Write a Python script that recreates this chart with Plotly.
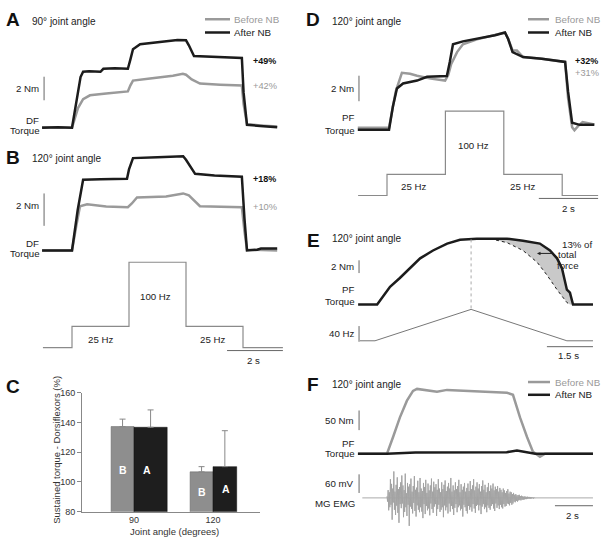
import plotly.graph_objects as go

W, H = 603, 551
FONT = "Liberation Sans, Arial, sans-serif"
BLK = "#1c1c1c"
GRY = "#9a9a9a"
STIM = "#8a8a8a"

# ---------------- DATA ----------------
# Panel A: 90 deg, DF torque (Nm) vs time (s)
a_after_t = [-1.05, -0.5, 0.0, 0.1, 0.21, 0.3, 0.39, 0.6, 1.0, 1.1, 1.5, 1.96, 2.05, 2.14, 2.39, 2.8, 3.33, 3.7, 4.0, 4.1, 4.28, 5.0, 5.96, 6.02, 6.14, 6.6, 7.2]
a_after_v = [0.0, 0.05, 0.0, 1.5, 3.3, 4.3, 4.75, 4.8, 4.75, 5.0, 5.05, 5.0, 5.8, 6.67, 7.08, 7.2, 7.33, 7.45, 7.42, 7.0, 6.08, 6.0, 5.92, 3.0, 0.25, 0.15, 0.05]
a_before_t = [-1.05, -0.5, 0.0, 0.1, 0.21, 0.39, 0.63, 1.2, 1.96, 2.05, 2.14, 2.74, 3.2, 3.54, 3.89, 4.0, 4.2, 4.49, 5.2, 5.96, 6.02, 6.14, 6.6, 7.2]
a_before_v = [0.05, 0.0, 0.0, 0.8, 1.67, 2.42, 2.75, 2.9, 3.08, 3.6, 4.0, 4.17, 4.3, 4.42, 4.58, 4.5, 4.1, 3.75, 3.65, 3.58, 2.0, 0.3, 0.2, 0.1]

# Panel B: 120 deg, DF torque
b_after_t = [-1.05, 0, 0.2, 0.39, 1.0, 1.93, 2.0, 2.14, 3.0, 3.9, 4.0, 4.32, 5.0, 5.96, 6.05, 6.14, 6.5, 6.63, 7.2]
b_after_v = [0, 0, 2.5, 4.36, 4.4, 4.42, 5.0, 5.70, 5.75, 5.82, 5.6, 4.73, 4.62, 4.55, 2.0, 0, 0.05, 0.12, 0.12]
b_before_t = [-1.05, 0, 0.15, 0.28, 0.53, 1.2, 1.96, 2.1, 2.28, 3.3, 3.9, 4.1, 4.49, 5.2, 5.96, 6.05, 6.14, 7.2]
b_before_v = [0, 0, 1.5, 2.73, 2.85, 2.72, 2.67, 2.9, 3.27, 3.33, 3.52, 3.4, 2.73, 2.7, 2.67, 1.2, 0.05, 0]

# Stimulation pattern (Hz)
b_stim_t = [-1.02, 0, 0, 2, 2, 4, 4, 6, 6, 7.4]
b_stim_hz = [0, 0, 25, 25, 100, 100, 25, 25, 0, 0]

# Panel C: sustained torque (%)
c_angles = ["90", "120"]
c_before = [137.3, 106.8]
c_after = [136.8, 110.3]
c_before_err = [5.0, 3.5]
c_after_err = [11.7, 24.2]

# Panel D: 120 deg, PF torque
d_after_t = [-1.0, 0.07, 0.2, 0.34, 0.55, 1.03, 1.37, 1.7, 2.05, 2.15, 2.26, 2.6, 3.3, 3.7, 4.04, 4.15, 4.3, 4.66, 5.3, 5.92, 6.1, 6.2, 6.34, 6.6, 7.1]
d_after_v = [0, 0, 1.8, 3.23, 3.62, 3.85, 4.15, 4.15, 4.2, 5.3, 6.69, 6.92, 7.23, 7.4, 7.62, 7.1, 6.08, 5.69, 5.55, 5.38, 5.31, 3.0, 0.54, 0.38, 0.38]
d_before_t = [-1.0, 0.07, 0.3, 0.51, 0.79, 1.03, 1.5, 1.99, 2.1, 2.2, 2.4, 2.6, 3.08, 3.6, 4.04, 4.15, 4.3, 4.45, 4.66, 5.3, 5.92, 6.1, 6.2, 6.34, 6.42, 6.55, 6.7, 6.9, 7.1]
d_before_v = [0.15, 0.15, 3.0, 4.46, 4.38, 4.23, 4.0, 3.85, 4.3, 5.15, 6.08, 6.69, 7.08, 7.35, 7.62, 7.1, 6.2, 6.2, 5.69, 5.55, 5.38, 5.31, 2.5, 0.2, -0.05, 0.3, 0.6, 0.5, 0.4]
d_stim_t = [-0.99, 0, 0, 2, 2, 4, 4, 6, 6, 7.23]
d_stim_hz = [0, 0, 25, 25, 100, 100, 25, 25, 0, 0]

# Panel E: ramp stimulation, PF torque
e_torque_t = [-0.55, 0.07, 0.26, 0.49, 0.81, 1.14, 1.47, 1.89, 2.35, 2.77, 3.32, 3.75, 4.30, 4.82, 5.37, 5.70, 5.93, 6.09, 6.19, 6.25, 6.35, 6.42, 6.45, 7.1]
e_torque_v = [0, 0, 1.23, 2.77, 4.15, 5.69, 7.23, 8.46, 9.54, 10.15, 10.31, 10.31, 10.31, 10.0, 9.54, 8.46, 7.23, 5.69, 3.85, 2.31, 1.85, 0.31, 0, 0]
e_mirror_t = [3.75, 4.30, 4.82, 5.28, 5.60, 5.93, 6.25, 6.35]
e_mirror_v = [10.31, 9.69, 8.46, 6.62, 4.62, 2.31, 0.31, 0]
e_stim_t = [-0.49, 0, 3.13, 6.25, 7.1]
e_stim_hz = [0, 0, 80, 0, 0]

# Panel F: PF torque before / after NB and MG EMG
f_before_t = [-1.53, 0, 0.32, 0.68, 1.05, 1.37, 1.58, 2.63, 3.16, 5.05, 6.32, 6.63, 7.0, 7.37, 7.68, 8.05, 8.32, 10.84]
f_before_v = [0, 0, 42.5, 92.5, 135, 160, 165, 157.5, 162.5, 157.5, 155, 150, 92.5, 42.5, 5, -7.5, 0, 0]
f_after_t = [-1.53, 0, 1.5, 6.3, 6.84, 7.5, 7.8, 10.84]
f_after_v = [0, 0, 3, 4, 8, 3, 0, 0]
f_emg_mv = [5, -12, 25, -40, 18, -30, 60, -22, 45, -70, 30, -15, 85, -38, 20, -55, 42, -25, 66, -48,
            28, -80, 35, -20, 50, -33, 72, -18, 40, -62, 25, -45, 78, -30, 15, -58, 48, -22, 36, -90,
            44, -28, 62, -35, 20, -50, 38, -16, 70, -42, 26, -60, 33, -24, 55, -38, 18, -46, 64, -30,
            30, -44, 22, -65, 48, -20, 35, -52, 58, -26, 16, -40, 46, -34, 24, -56, 40, -18, 62, -36,
            20, -48, 52, -28, 34, -20, 44, -58, 26, -36, 60, -22, 30, -45, 18, -38, 50, -30, 28, -62,
            42, -24, 56, -40, 22, -30, 36, -50, 48, -18, 30, -44, 64, -26, 20, -36, 40, -55, 24, -32,
            50, -20, 28, -46, 38, -30, 58, -24, 18, -40, 44, -35, 26, -60, 36, -22, 48, -30, 20, -42,
            32, -50, 46, -26, 22, -38, 54, -30, 28, -44, 40, -20, 60, -34, 24, -48, 36, -26, 50, -22,
            30, -40, 44, -24, 20, -52, 38, -28, 56, -20, 26, -36, 42, -30, 18, -46, 34, -24, 48, -32,
            22, -38, 40, -26, 30, -20, 46, -34, 24, -42, 36, -18, 28, -32, 38, -24, 20, -36, 32, -22,
            26, -30, 18, -34, 30, -20, 24, -28, 16, -26, 22, -18, 28, -20, 14, -24, 20, -16, 18, -22,
            12, -18, 16, -12, 10, -14, 12, -10, 8, -12, 9, -8, 10, -7, 6, -8, 7, -6, 5, -6,
            4, -5, 5, -4, 3, -4, 4, -3, 3, -2, 3, -3, 2, -2, 2, -1, 1, -2, 1, -1]
f_emg_start = 0.0
f_emg_dt = 0.03
f_emg_base_t = [-1.3, 10.84]
f_emg_base_v = [0, 0]


# ---------------- LAYOUT HELPERS ----------------
def xax(l, r, x0, pps):
    return dict(domain=[l / W, r / W], range=[(l - x0) / pps, (r - x0) / pps],
                visible=False, fixedrange=True)


def yax(t, b, y0, ppu, anchor):
    return dict(domain=[1 - b / H, 1 - t / H], range=[(y0 - b) / ppu, (y0 - t) / ppu],
                visible=False, fixedrange=True, anchor=anchor)


fig = go.Figure()


def line(t, v, xa, ya, color, width, dash=None):
    fig.add_trace(go.Scatter(x=t, y=v, xaxis=xa, yaxis=ya, mode="lines",
                             line=dict(color=color, width=width, dash=dash),
                             hoverinfo="skip", showlegend=False))


# A
line(a_before_t, a_before_v, "x", "y", GRY, 2.5)
line(a_after_t, a_after_v, "x", "y", BLK, 2.5)
# B
line(b_before_t, b_before_v, "x2", "y2", GRY, 2.5)
line(b_after_t, b_after_v, "x2", "y2", BLK, 2.5)
line(b_stim_t, b_stim_hz, "x2", "y3", STIM, 1.2)
# D
line(d_before_t, d_before_v, "x3", "y4", GRY, 2.5)
line(d_after_t, d_after_v, "x3", "y4", BLK, 2.5)
line(d_stim_t, d_stim_hz, "x3", "y5", STIM, 1.2)
# E
line(e_mirror_t, e_mirror_v, "x4", "y6", "rgba(0,0,0,0)", 0)
fig.add_trace(go.Scatter(x=e_torque_t[11:], y=e_torque_v[11:], xaxis="x4", yaxis="y6",
                         mode="lines", line=dict(width=0, color="rgba(0,0,0,0)"),
                         fill="tonexty", fillcolor="#c9c9c9", hoverinfo="skip", showlegend=False))
line(e_mirror_t, e_mirror_v, "x4", "y6", BLK, 1, "dot")
line(e_torque_t, e_torque_v, "x4", "y6", BLK, 2.5)
line(e_stim_t, e_stim_hz, "x4", "y7", "#777", 1)
# F
line(f_emg_base_t, f_emg_base_v, "x5", "y9", "#aaaaaa", 1)
fig.add_trace(go.Scatter(y=f_emg_mv, x0=f_emg_start, dx=f_emg_dt, xaxis="x5", yaxis="y9",
                         mode="lines", line=dict(color="#a3a3a3", width=1.0, simplify=False),
                         hoverinfo="skip", showlegend=False))
line(f_before_t, f_before_v, "x5", "y8", GRY, 2.5)
line(f_after_t, f_after_v, "x5", "y8", BLK, 2.5)

# C bars
fig.add_trace(go.Bar(x=[0, 1], y=c_before, xaxis="x6", yaxis="y10", offset=-0.29, width=0.29,
                     marker=dict(color="#8e8e8e", line=dict(color="#666", width=0.5)),
                     error_y=dict(type="data", array=c_before_err, symmetric=False,
                                  arrayminus=[0, 0], color="#888", thickness=1, width=3),
                     hoverinfo="skip", showlegend=False))
fig.add_trace(go.Bar(x=[0, 1], y=c_after, xaxis="x6", yaxis="y10", offset=0, width=[0.42, 0.30],
                     marker=dict(color="#1e1e1e", line=dict(color="#111", width=0.5)),
                     error_y=dict(type="data", array=c_after_err, symmetric=False,
                                  arrayminus=[0, 0], color="#888", thickness=1, width=3),
                     hoverinfo="skip", showlegend=False))

shapes = []
ann = []


def S(xr, yr, x0, x1, y0, y1, color="#666", width=1, dash=None):
    shapes.append(dict(type="line", xref=xr, yref=yr, x0=x0, x1=x1, y0=y0, y1=y1,
                       line=dict(color=color, width=width, dash=dash)))


def L(x0, x1, y, color, width=2.5):
    shapes.append(dict(type="line", xref="paper", yref="paper", x0=x0 / W, x1=x1 / W,
                       y0=1 - y / H, y1=1 - y / H, line=dict(color=color, width=width)))


def T(x, y, s, size=9.7, color="#222", bold=False, xa="left"):
    ann.append(dict(x=x / W, y=1 - y / H, xref="paper", yref="paper",
                    text=("<b>%s</b>" % s) if bold else s, showarrow=False,
                    xanchor=xa, yanchor="middle", font=dict(size=size, color=color, family=FONT)))


# scale bars (data units)
S("x", "y", -0.98, -0.98, 2.33, 4.33)            # A 2 Nm
S("x2", "y2", -0.98, -0.98, 1.52, 3.52)          # B 2 Nm
S("x2", "y3", 5.44, 7.4, -3.4, -3.4)             # B 2 s
S("x3", "y4", -0.96, -0.96, 2.23, 4.23)          # D 2 Nm
S("x3", "y5", 5.2, 7.23, -3.5, -3.5)             # D 2 s
S("x4", "y6", -0.52, -0.52, 4.92, 6.92)          # E 2 Nm
S("x4", "y7", -0.52, -0.52, -2.5, 37.5)          # E 40 Hz
S("x4", "y7", 5.6, 7.1, -15, -15)                # E 1.5 s
S("x4", "y6", 3.13, 3.13, -0.62, 10.3, "#aaa", 1, "dot")  # E dotted vertical
S("x5", "y8", -1.47, -1.47, 60, 110)             # F 50 Nm
S("x5", "y9", -1.47, -1.47, 15.8, 75.7)          # F 60 mV
S("x5", "y9", 8.84, 10.84, -25.2, -25.2)         # F 2 s

# legends
for (lx0, lx1, tx, y1, y2) in [(205, 230, 232, 14.5, 28), (528, 549, 553, 14.5, 28), (528, 550, 553, 384, 397)]:
    L(lx0, lx1, y1, GRY)
    L(lx0, lx1, y2, BLK)
    T(tx, y1, "Before NB", 9.8, GRY)
    T(tx, y2, "After NB", 9.8, "#222")

# panel letters & titles
for (lx, ly, letter) in [(13, 15, "A"), (13, 155, "B"), (13, 389, "C"), (313, 15, "D"), (313, 240, "E"), (313, 387, "F")]:
    T(lx, ly, letter, 19, "#111", True, "center")
T(30, 17, "90° joint angle", 10)
T(30, 156, "120° joint angle", 10)
T(330, 17, "120° joint angle", 10)
T(330, 238, "120° joint angle", 10)
T(330, 387, "120° joint angle", 10)

# A texts
T(251, 57, "+49%", 9, "#111", True)
T(251, 82, "+42%", 9.3, GRY)
T(41, 85, "2 Nm", xa="right")
T(41, 118, "DF", xa="right")
T(42, 128, "Torque", xa="right")
# B texts
T(251, 177, "+18%", 9, "#111", True)
T(251, 206, "+10%", 9.3, GRY)
T(41, 204, "2 Nm", xa="right")
T(41, 243, "DF", xa="right")
T(42, 253, "Torque", xa="right")
T(155, 297, "100 Hz", xa="center")
T(100, 341, "25 Hz", xa="center")
T(212, 341, "25 Hz", xa="center")
T(253, 362, "2 s", xa="center")
# D texts
T(573, 57, "+32%", 9, "#111", True)
T(573, 69, "+31%", 9.3, GRY)
T(356, 85, "2 Nm", xa="right")
T(356, 115, "PF", xa="right")
T(357, 128, "Torque", xa="right")
T(473, 143, "100 Hz", xa="center")
T(413, 185, "25 Hz", xa="center")
T(522, 185, "25 Hz", xa="center")
T(568, 207, "2 s", xa="center")
# E texts
T(356, 266, "2 Nm", xa="right")
T(356, 290, "PF", xa="right")
T(357, 302, "Torque", xa="right")
T(356, 335, "40 Hz", xa="right")
T(568, 357, "1.5 s", xa="center")
T(577, 244, "13% of", xa="center")
T(567, 254, "total", xa="center")
T(568, 265, "force", xa="center")
ann.append(dict(x=537 / W, y=1 - 253 / H, xref="paper", yref="paper", ax=17, ay=0, text="",
                showarrow=True, arrowhead=2, arrowsize=0.7, arrowwidth=1, arrowcolor="#222"))
# F texts
T(356, 423, "50 Nm", xa="right")
T(356, 447, "PF", xa="right")
T(357, 457, "Torque", xa="right")
T(356, 487, "60 mV", xa="right")
T(357, 508, "MG EMG", xa="right")
T(572, 520, "2 s", xa="center")
# C texts
T(174, 536, "Joint angle (degrees)", 9.5, "#333", xa="center")
ann.append(dict(x=57 / W, y=1 - 453 / H, xref="paper", yref="paper", text="Sustained torque - Dorsiflexors (%)",
                showarrow=False, textangle=-90, xanchor="center", yanchor="middle",
                font=dict(size=9.5, color="#333", family=FONT)))
for (bx, by, s) in [(-0.14, 108, "B"), (0.165, 108, "A"), (0.86, 93, "B"), (1.16, 95, "A")]:
    ann.append(dict(x=bx, y=by, xref="x6", yref="y10", text="<b>%s</b>" % s, showarrow=False,
                    font=dict(size=10.5, color="white", family=FONT)))

layout = dict(
    width=W, height=H, margin=dict(l=0, r=0, t=0, b=0),
    paper_bgcolor="white", plot_bgcolor="rgba(0,0,0,0)", showlegend=False,
    font=dict(family=FONT, color="#222"),
    xaxis=xax(40, 290, 72, 28.5),
    yaxis=yax(25, 135, 125, 12, "x"),
    xaxis2=xax(40, 290, 72, 28.5),
    yaxis2=yax(145, 262, 250, 16.5, "x2"),
    yaxis3=yax(255, 370, 349, 0.87, "x2"),
    xaxis3=xax(350, 603, 387, 29.2),
    yaxis4=yax(20, 135, 127, 13, "x3"),
    yaxis5=yax(100, 215, 194, 0.86, "x3"),
    xaxis4=xax(350, 603, 375, 30.7),
    yaxis6=yax(225, 312, 305, 6.5, "x4"),
    yaxis7=yax(300, 365, 342, 0.4, "x4"),
    xaxis5=xax(350, 603, 387, 19),
    yaxis8=yax(378, 465, 457, 0.4, "x5"),
    yaxis9=yax(465, 540, 502, 0.317, "x5"),
    xaxis6=dict(domain=[82 / W, 260 / W], range=[(82 - 134) / 79, (260 - 134) / 79],
                anchor="y10", showline=True, linecolor="#888", linewidth=1, ticks="",
                tickvals=[0, 1], ticktext=c_angles, showgrid=False, zeroline=False,
                tickfont=dict(size=9, color="#333"), fixedrange=True),
    yaxis10=dict(domain=[1 - 516 / H, 1 - 395 / H], range=[80, 160], anchor="x6",
                 showline=True, linecolor="#888", linewidth=1, ticks="outside", ticklen=4,
                 tickcolor="#888", tickvals=[80, 100, 120, 140, 160], showgrid=False,
                 zeroline=False, tickfont=dict(size=9, color="#333"), fixedrange=True),
    shapes=shapes, annotations=ann,
)
fig.update_layout(**layout)
fig.write_html("out.html", config={"displayModeBar": False, "staticPlot": True},
               post_script="document.body.style.margin='0px';document.body.style.overflow='hidden';")
